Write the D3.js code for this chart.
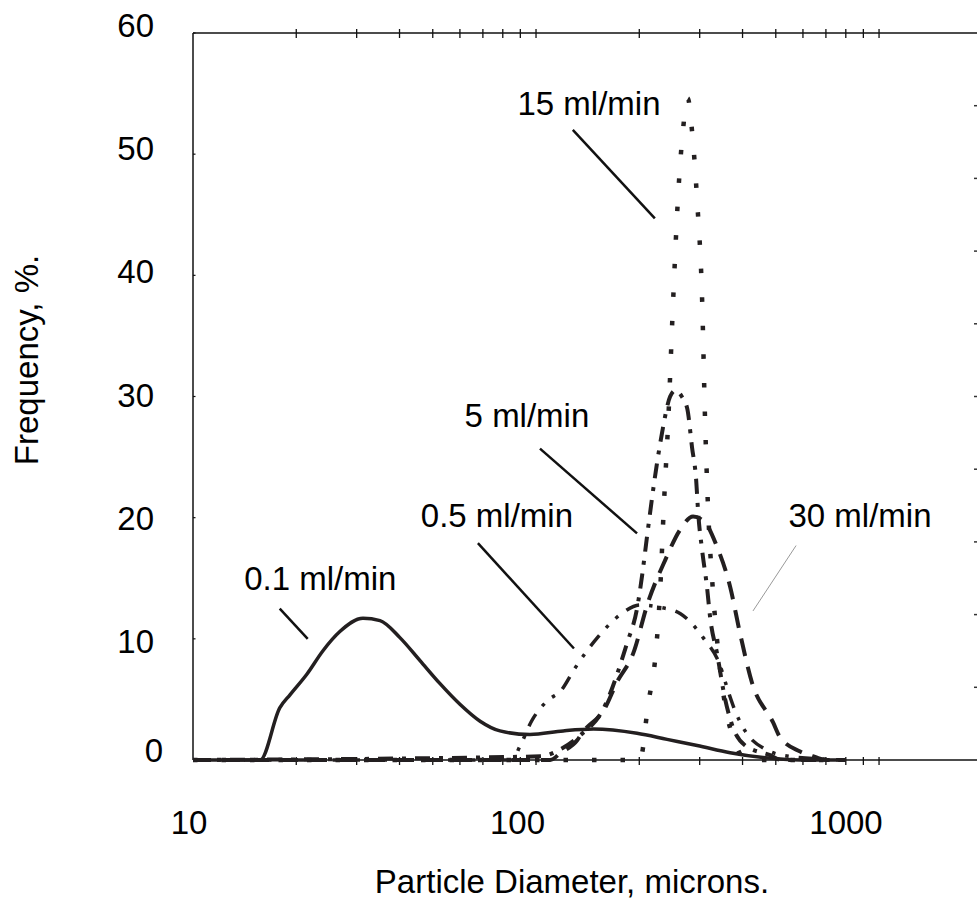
<!DOCTYPE html>
<html>
<head>
<meta charset="utf-8">
<script src="https://cdn.jsdelivr.net/npm/d3@7"></script>
<style>
body { margin: 0; background: #fff; }
text { font-family: "Liberation Sans", Arial, sans-serif; fill: #000; }
</style>
</head>
<body>
<script>
// --- data (diameter in microns, frequency in %) ---
let d01 = [10, 12, 14, 15.7, 17.9, 19.2, 21.5, 23.9, 26.8, 31.3, 35.1, 40.1, 45.9, 52.5, 60, 68.7, 78.5, 96, 120, 147, 197, 241, 295, 368, 459, 589, 800];
let f01 = [0, 0, 0, 0, 4.3, 5.4, 7.1, 9.0, 10.6, 11.7, 11.5, 10.1, 8.2, 6.3, 4.6, 3.2, 2.4, 2.1, 2.4, 2.55, 2.2, 1.7, 1.2, 0.6, 0.2, 0, 0];

let d05 = [10, 85, 90, 97, 108, 118, 130, 151, 178, 201, 230, 263, 307, 344, 363, 380, 407, 465, 550, 800];
let f05 = [0, 0, 1.2, 3.2, 4.9, 5.7, 7.6, 10.1, 12.1, 12.8, 12.6, 12.1, 10.1, 7.8, 5.7, 4.1, 2.4, 0.9, 0.3, 0];

let d5 = [10, 103, 118, 134, 157, 184, 197, 204, 211, 225, 233, 246, 255, 266, 276, 285, 293, 297, 305, 315, 322, 337, 356, 375, 407, 481, 520, 800];
let f5 = [0, 0.3, 0.9, 2.0, 4.2, 9.6, 12.5, 15.3, 18.6, 24.4, 27.0, 30.0, 30.5, 30.0, 29.0, 25.8, 23.1, 20.4, 17.3, 14.3, 11.7, 8.8, 5.0, 2.7, 1.2, 0.4, 0, 0];

let d15 = [10, 201, 212, 224, 230, 236, 243, 251, 259, 268, 277, 285, 295, 305, 311, 317, 328, 339, 356, 380, 410, 800];
let f15 = [0, 0, 4.5, 9.2, 13.9, 21.1, 28.1, 37.9, 46.1, 51.9, 54.6, 51.9, 46.1, 37.9, 28.1, 21.1, 13.9, 9.2, 4.5, 1.5, 0, 0];

let d30 = [10, 110, 118, 132, 136, 159, 172, 192, 212, 238, 263, 287, 311, 337, 368, 393, 426, 491, 514, 589, 651, 700, 800];
let f30 = [0, 0, 0.6, 1.65, 2.2, 4.3, 6.4, 8.8, 13, 16.5, 19, 20.1, 19.6, 17.6, 14.3, 10.5, 6.4, 3.1, 1.9, 0.7, 0.25, 0, 0];

let xTickLabels = [10, 100, 1000];
let yTickLabels = [0, 10, 20, 30, 40, 50, 60];
let xMinorTicks = [20, 30, 40, 50, 60, 70, 80, 90, 100, 200, 300, 400, 500, 600, 700, 800, 900, 1000];

// annotation text and leader ends, in data units
let annoNames = ["15 ml/min", "5 ml/min", "0.5 ml/min", "30 ml/min", "0.1 ml/min"];
let annoTextAt = [[142.7, 53.2], [94.1, 27.5], [76.9, 19.2], [880, 19.2], [23.5, 14.0]];
let annoLineFrom = [[128, 52.0], [102.7, 25.7], [67.7, 17.9], [573, 17.7], [17.9, 12.5]];
let annoLineTo = [[222, 44.7], [197, 18.7], [129, 9.2], [429, 12.3], [21.6, 10.0]];

let width = 977, height = 902;
let fontSize = "33px";

let x = d3.scaleLog()
    .domain([10, 1930])
    .range([193, 977]);

let y = d3.scaleLinear()
    .domain([0, 60])
    .range([760, 33]);

// the tick labels in the picture sit a little off their ticks
let xLab = d3.scaleLog().domain([10, 1000]).range([189, 846]);
let yLab = d3.scaleLinear().domain([10, 60]).range([641, 25]);

let svg = d3.select("body").append("svg")
    .attr("width", width)
    .attr("height", height);

// frame lines
let axisColor = "#111";
svg.append("line").attr("x1", x(10)).attr("x2", width).attr("y1", y(60)).attr("y2", y(60))
    .attr("stroke", axisColor).attr("stroke-width", 1.5);
svg.append("line").attr("x1", x(10)).attr("x2", width).attr("y1", y(0)).attr("y2", y(0))
    .attr("stroke", axisColor).attr("stroke-width", 1.5);
svg.append("line").attr("x1", x(10)).attr("x2", x(10)).attr("y1", y(60)).attr("y2", y(0))
    .attr("stroke", axisColor).attr("stroke-width", 1.5);

// log ticks, top and bottom, crossing the line
svg.selectAll("line.tb").data(xMinorTicks).enter().append("line")
    .attr("class", "tb")
    .attr("x1", d => x(d)).attr("x2", d => x(d))
    .attr("y1", y(0) - 3).attr("y2", y(0) + 5)
    .attr("stroke", axisColor).attr("stroke-width", 1.3);
svg.selectAll("line.tt").data(xMinorTicks).enter().append("line")
    .attr("class", "tt")
    .attr("x1", d => x(d)).attr("x2", d => x(d))
    .attr("y1", y(60) - 4).attr("y2", y(60) + 5)
    .attr("stroke", axisColor).attr("stroke-width", 1.3);

// small inner ticks on the left axis
svg.selectAll("line.tl").data(yTickLabels).enter().append("line")
    .attr("class", "tl")
    .attr("x1", x(10)).attr("x2", x(10) + 2.5)
    .attr("y1", d => y(d)).attr("y2", d => y(d))
    .attr("stroke", axisColor).attr("stroke-width", 1.2);

// right side ticks (axis itself is off the picture)
let rightTicks = d3.range(6, 60, 6);
svg.selectAll("line.tr").data(rightTicks).enter().append("line")
    .attr("class", "tr")
    .attr("x1", width - 3).attr("x2", width)
    .attr("y1", d => y(d)).attr("y2", d => y(d))
    .attr("stroke", "#333").attr("stroke-width", 1.5);

// tick labels
svg.selectAll("text.xl").data(xTickLabels).enter().append("text")
    .attr("class", "xl")
    .attr("x", d => xLab(d))
    .attr("y", 834)
    .attr("text-anchor", "middle")
    .style("font-size", fontSize)
    .text(d => d);

svg.selectAll("text.yl").data(yTickLabels).enter().append("text")
    .attr("class", "yl")
    .attr("x", d => d === 0 ? 163 : 154)
    .attr("y", d => d === 0 ? 762 : yLab(d) + 12)
    .attr("text-anchor", "end")
    .style("font-size", fontSize)
    .text(d => d);

// axis titles
svg.append("text")
    .attr("x", 572).attr("y", 893)
    .attr("text-anchor", "middle")
    .style("font-size", fontSize)
    .text("Particle Diameter, microns.");

svg.append("text")
    .attr("transform", "translate(38,360) rotate(-90)")
    .attr("text-anchor", "middle")
    .style("font-size", fontSize)
    .text("Frequency, %.");

// curves
let line = d3.line()
    .x(p => x(p[0]))
    .y(p => y(p[1]))
    .curve(d3.curveMonotoneX);

let series = [
    {d: d30, f: f30, w: 4, dash: "18 11"},
    {d: d5, f: f5, w: 4, dash: "15 9 4 9"},
    {d: d05, f: f05, w: 3.5, dash: "14 10 3.5 10 3.5 10"},
    {d: d15, f: f15, w: 4.5, dash: "4.5 24"},
    {d: d01, f: f01, w: 3.5, dash: null}
];

series.forEach(function (s) {
    let pts = s.d.map((d, i) => [d, s.f[i]]);
    svg.append("path")
        .datum(pts)
        .attr("d", line)
        .attr("fill", "none")
        .attr("stroke", "#231f20")
        .attr("stroke-width", s.w)
        .attr("stroke-dasharray", s.dash);
});

// annotations
annoNames.forEach(function (name, i) {
    svg.append("line")
        .attr("x1", x(annoLineFrom[i][0])).attr("y1", y(annoLineFrom[i][1]))
        .attr("x2", x(annoLineTo[i][0])).attr("y2", y(annoLineTo[i][1]))
        .attr("stroke", name === "30 ml/min" ? "#999" : "#111")
        .attr("stroke-width", name === "30 ml/min" ? 1 : 2.5);
    svg.append("text")
        .attr("x", x(annoTextAt[i][0]))
        .attr("y", y(annoTextAt[i][1]))
        .attr("text-anchor", "middle")
        .style("font-size", fontSize)
        .text(name);
});
</script>
</body>
</html>
